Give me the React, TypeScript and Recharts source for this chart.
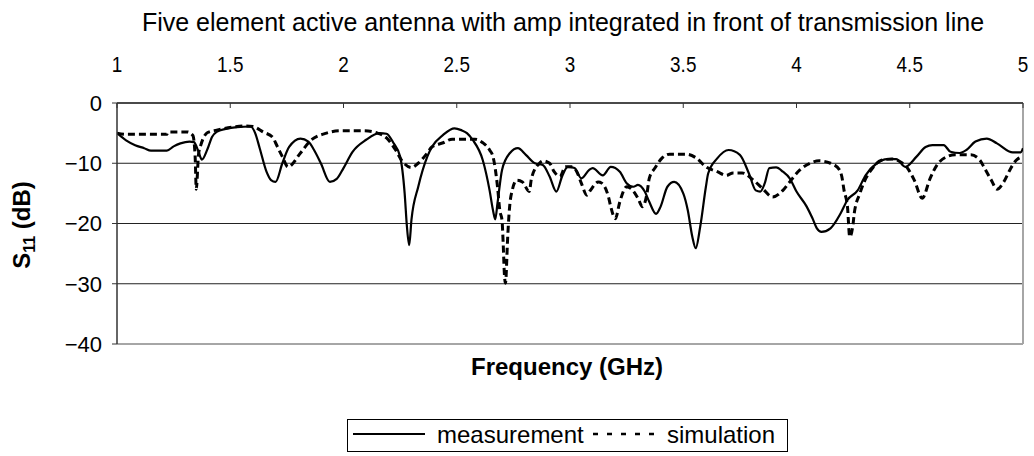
import { LineChart, Line, XAxis, YAxis, CartesianGrid, ReferenceLine, Legend } from 'recharts'

// values (GHz, dB)
const measFreq = [
  1.0, 1.04, 1.08, 1.12, 1.15, 1.22, 1.25, 1.28, 1.32, 1.34, 1.36, 1.375, 1.4, 1.42, 1.44, 1.48, 1.53, 1.59,
  1.61, 1.63, 1.66, 1.68, 1.7, 1.73, 1.76, 1.81, 1.845, 1.87, 1.9, 1.94, 1.97, 2.0, 2.04, 2.1, 2.16, 2.19,
  2.22, 2.25, 2.27, 2.28, 2.29, 2.3, 2.33, 2.37, 2.39, 2.44, 2.49, 2.52, 2.545, 2.57, 2.615, 2.645, 2.66,
  2.67, 2.68, 2.7, 2.735, 2.77, 2.805, 2.845, 2.88, 2.91, 2.94, 2.965, 2.99, 3.02, 3.05, 3.085, 3.1, 3.145,
  3.18, 3.22, 3.25, 3.28, 3.3, 3.33, 3.35, 3.38, 3.4, 3.43, 3.46, 3.5, 3.52, 3.54, 3.555, 3.575, 3.6, 3.61,
  3.65, 3.7, 3.75, 3.79, 3.82, 3.84, 3.86, 3.88, 3.91, 3.94, 3.97, 4.0, 4.045, 4.07, 4.09, 4.11, 4.15, 4.195,
  4.225, 4.27, 4.305, 4.355, 4.4, 4.44, 4.48, 4.53, 4.57, 4.6, 4.65, 4.68, 4.72, 4.75, 4.79, 4.84, 4.885,
  4.955, 4.99, 5.0,
]
const measDb = [
  -5.0, -6.2, -7.0, -7.5, -7.9, -7.9, -7.2, -6.7, -6.4, -6.5, -8.1, -9.4, -7.6, -5.6, -4.8, -4.3, -4.0, -3.9,
  -5.0, -7.5, -11.4, -12.8, -13.1, -10.0, -7.3, -5.9, -6.4, -7.8, -10.0, -13.1, -12.6, -10.8, -8.1, -6.1, -5.0, -5.1,
  -6.6, -8.9, -15.0, -20.5, -23.6, -19.4, -13.9, -8.9, -7.3, -5.3, -4.2, -4.5, -5.0, -6.1, -9.5, -14.5, -17.8,
  -19.3, -16.6, -11.1, -8.3, -7.5, -8.6, -10.0, -10.3, -12.2, -14.7, -12.2, -10.6, -10.8, -12.5, -11.1, -10.8, -12.0,
  -10.6, -11.4, -13.3, -13.9, -13.6, -14.7, -16.4, -18.4, -17.2, -13.9, -13.1, -15.0, -17.8, -22.2, -24.1, -20.5, -13.9, -11.7,
  -9.2, -7.8, -8.6, -11.7, -14.5, -14.7, -13.3, -10.8, -10.7, -11.4, -12.5, -14.7, -17.2, -19.1, -20.8, -21.4, -20.8, -18.3,
  -16.1, -14.5, -12.0, -10.0, -9.3, -9.3, -10.6, -8.9, -7.3, -7.0, -7.0, -8.1, -8.3, -7.8, -6.4, -5.9, -6.7,
  -8.2, -8.2, -7.5,
]

const simFreq = [
  1.0, 1.04, 1.22, 1.225, 1.31, 1.335, 1.345, 1.35, 1.36, 1.37, 1.4, 1.44, 1.51, 1.57, 1.6, 1.645, 1.69, 1.7,
  1.73, 1.755, 1.81, 1.85, 1.925, 1.985, 2.09, 2.15, 2.19, 2.23, 2.26, 2.3, 2.33, 2.37, 2.39, 2.44, 2.48, 2.58,
  2.615, 2.645, 2.66, 2.68, 2.69, 2.7, 2.705, 2.71, 2.715, 2.725, 2.73, 2.735, 2.745, 2.765, 2.79, 2.82, 2.83,
  2.865, 2.88, 2.91, 2.93, 2.955, 2.98, 3.01, 3.03, 3.05, 3.075, 3.09, 3.125, 3.14, 3.17, 3.18, 3.2, 3.22, 3.25,
  3.275, 3.3, 3.32, 3.34, 3.35, 3.375, 3.405, 3.44, 3.515, 3.56, 3.6, 3.65, 3.69, 3.72, 3.76, 3.81, 3.85, 3.895,
  3.94, 3.97, 4.015, 4.06, 4.1, 4.15, 4.19, 4.2, 4.21, 4.225, 4.235, 4.25, 4.255, 4.28, 4.3, 4.33, 4.375, 4.42,
  4.465, 4.49, 4.52, 4.555, 4.59, 4.62, 4.665, 4.7, 4.77, 4.81, 4.83, 4.86, 4.885, 4.915, 4.945, 4.97, 5.0,
]
const simDb = [
  -5.0, -5.2, -5.2, -4.8, -4.8, -5.4, -8.9, -14.3, -8.5, -7.0, -4.9, -4.5, -4.0, -3.8, -3.9, -4.8, -5.8, -6.6,
  -8.9, -10.6, -8.3, -6.4, -5.0, -4.6, -4.6, -5.0, -5.8, -7.8, -9.7, -10.7, -10.0, -8.3, -7.3, -6.6, -6.0, -6.0,
  -6.6, -7.8, -8.9, -13.9, -17.8, -19.5, -23.3, -28.2, -29.9, -22.2, -18.9, -16.6, -14.5, -12.8, -13.1, -14.7, -12.5,
  -10.0, -9.6, -10.0, -11.4, -12.2, -10.6, -10.6, -11.4, -13.3, -15.3, -14.5, -13.1, -13.3, -15.6, -17.2, -19.2, -16.4, -13.9,
  -14.4, -15.8, -17.2, -15.0, -12.5, -10.8, -9.2, -8.5, -8.5, -9.2, -10.6, -11.4, -12.0, -11.6, -11.6, -12.8, -14.2, -15.6,
  -14.5, -13.1, -11.1, -10.0, -9.6, -10.0, -11.1, -12.2, -14.5, -17.2, -22.2, -20.0, -18.3, -15.0, -13.0, -11.1, -9.5, -9.3,
  -9.9, -10.8, -12.8, -15.8, -12.5, -10.3, -8.9, -8.6, -8.6, -9.5, -10.8, -12.8, -14.3, -13.1, -10.9, -9.5, -8.9,
]

const freqTicks = [1, 1.5, 2, 2.5, 3, 3.5, 4, 4.5, 5]
const dbTicks = [-40, -30, -20, -10, 0]

const measurement = measFreq.map((f, i) => ({ f, db: measDb[i] }))
const simulation = simFreq.map((f, i) => ({ f, db: simDb[i] }))

const FONT = '"Liberation Sans", Arial, Helvetica, sans-serif'

function FreqTick({ x, y, payload }: any) {
  return (
    <g>
      <text
        transform={`translate(${x},${y - 31}) scale(0.86,1)`}
        textAnchor="middle"
        fontSize={22}
        fill="#000"
        fontFamily={FONT}
      >
        {payload.value}
      </text>
      <line x1={x} x2={x} y1={y} y2={y + 5} stroke="#333" strokeWidth={1} />
    </g>
  )
}

const fmtDb = (v: number) => (v === 0 ? '0' : '\u2212' + Math.abs(v))

function LegendBox() {
  return (
    <div
      style={{
        position: 'relative',
        width: 441,
        height: 33,
        border: '1px solid #000',
        boxSizing: 'border-box',
        background: '#fff',
        fontFamily: FONT,
        fontSize: 24,
        color: '#000',
      }}
    >
      <svg width={441} height={33} style={{ position: 'absolute', left: -1, top: -1 }}>
        <line x1={6} x2={78} y1={15} y2={15} stroke="#000" strokeWidth={2.2} />
        <line x1={246} x2={314} y1={15} y2={15} stroke="#000" strokeWidth={2.5} strokeDasharray="5 9" />
      </svg>
      <span style={{ position: 'absolute', left: 89, top: 0, lineHeight: '30px' }}>measurement</span>
      <span style={{ position: 'absolute', left: 319, top: 0, lineHeight: '30px' }}>simulation</span>
    </div>
  )
}

export default function App() {
  return (
    <div
      style={{
        position: 'absolute',
        left: 0,
        top: 0,
        width: 1034,
        height: 456,
        background: '#fff',
        fontFamily: FONT,
        color: '#000',
      }}
    >
      <LineChart width={1034} height={456} margin={{ top: 53, right: 11, bottom: 112, left: 57 }}>
        <CartesianGrid vertical={false} stroke="#222" strokeWidth={1} />
        <XAxis
          type="number"
          dataKey="f"
          orientation="top"
          domain={[1, 5]}
          ticks={freqTicks}
          interval={0}
          height={50}
          tickSize={0}
          tickMargin={0}
          tickLine={false}
          tick={<FreqTick />}
          axisLine={{ stroke: '#333', strokeWidth: 1.5 }}
          allowDataOverflow
        />
        <YAxis
          type="number"
          domain={[-40, 0]}
          ticks={dbTicks}
          interval={0}
          width={60}
          tickSize={5}
          tickMargin={10}
          tickFormatter={fmtDb}
          tick={{ fill: '#000', fontSize: 22, fontFamily: FONT }}
          tickLine={{ stroke: '#333' }}
          axisLine={{ stroke: '#333', strokeWidth: 1.5 }}
        />
        <ReferenceLine y={-40} stroke="#a6a6a6" strokeWidth={2} />
        <ReferenceLine x={5} stroke="#a6a6a6" strokeWidth={2} />
        <Legend
          verticalAlign="middle"
          align="center"
          layout="horizontal"
          wrapperStyle={{ left: 347, top: 419, width: 441, height: 33 }}
          content={() => <LegendBox />}
        />
        <Line
          data={simulation}
          dataKey="db"
          name="simulation"
          type="monotone"
          stroke="#000"
          strokeWidth={3}
          strokeDasharray="7 4"
          dot={false}
          activeDot={false}
          isAnimationActive={false}
        />
        <Line
          data={measurement}
          dataKey="db"
          name="measurement"
          type="monotone"
          stroke="#000"
          strokeWidth={2.2}
          dot={false}
          activeDot={false}
          isAnimationActive={false}
        />
      </LineChart>
      <div
        style={{
          position: 'absolute',
          left: 0,
          width: 1126,
          top: 8,
          textAlign: 'center',
          fontSize: 25,
          lineHeight: '28px',
        }}
      >
        Five element active antenna with amp integrated in front of transmission line
      </div>
      <div
        style={{
          position: 'absolute',
          left: 0,
          width: 1134,
          top: 353,
          textAlign: 'center',
          fontSize: 24,
          fontWeight: 'bold',
          lineHeight: '28px',
        }}
      >
        Frequency (GHz)
      </div>
      <div
        style={{
          position: 'absolute',
          left: 22,
          top: 225,
          transform: 'translate(-50%, -50%) rotate(-90deg)',
          whiteSpace: 'nowrap',
          fontSize: 24,
          fontWeight: 'bold',
          lineHeight: '28px',
        }}
      >
        S<sub style={{ fontSize: 16, verticalAlign: '-5px', lineHeight: 0 }}>11</sub> (dB)
      </div>
    </div>
  )
}
